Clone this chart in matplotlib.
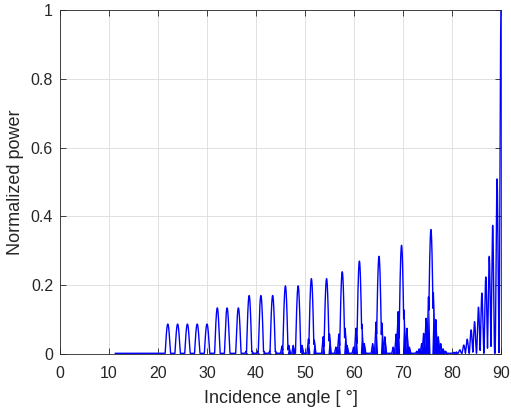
import numpy as np
import matplotlib.pyplot as plt

plt.rcParams['font.family'] = ['Liberation Sans', 'DejaVu Sans']

# main arches: angle [deg] and normalized power
main_pos = [22.0, 24.0, 26.0, 28.0, 30.0, 32.1, 34.1, 36.4, 38.6, 41.0, 43.4,
            46.0, 48.6, 51.3, 54.4, 57.6, 61.1, 65.1, 69.7, 75.7]
main_h = [0.087, 0.087, 0.087, 0.087, 0.087, 0.134, 0.134, 0.134, 0.170, 0.170, 0.170,
          0.198, 0.198, 0.219, 0.219, 0.239, 0.270, 0.284, 0.316, 0.362]

# small side spikes next to the main arches
side_pos = [38.0, 39.2, 40.4, 41.6, 42.8, 44.0,
            45.3, 46.7, 47.6, 49.4, 50.7, 51.9, 53.7, 55.0,
            56.3, 56.9, 58.2, 58.6, 59.9, 60.4, 61.6, 62.1,
            63.8, 64.5, 65.7, 66.3, 68.0, 68.6, 69.0, 70.2, 70.8, 71.3,
            72.8, 73.3, 73.8, 74.2, 74.7, 75.2, 76.2, 76.7, 77.2, 77.7, 78.2, 78.7,
            80.4, 80.9]
side_h = [0.008, 0.008, 0.008, 0.008, 0.008, 0.008,
          0.023, 0.025, 0.025, 0.025, 0.043, 0.040, 0.050, 0.058,
          0.020, 0.058, 0.075, 0.025, 0.020, 0.075, 0.087, 0.030,
          0.030, 0.093, 0.090, 0.050, 0.020, 0.058, 0.123, 0.128, 0.075, 0.020,
          0.008, 0.015, 0.030, 0.060, 0.104, 0.166, 0.178, 0.100, 0.050, 0.030, 0.015, 0.008,
          0.005, 0.006]

# lobes near grazing incidence
edge_pos = [81.6, 82.4, 83.1, 83.9, 84.6, 85.4, 86.1, 86.9, 87.6, 88.3, 89.2, 90.0]
edge_h = [0.012, 0.026, 0.043, 0.070, 0.094, 0.136, 0.177, 0.224, 0.284, 0.374, 0.509, 1.0]

x = np.linspace(11.3, 90, 40000)
base = np.full_like(x, 0.002)

main_curve = np.zeros_like(x)
for p, h in zip(main_pos, main_h):
    d = np.abs(x - p) / 0.55
    main_curve = np.maximum(main_curve, np.where(d < 1, h * np.cos(np.pi / 2 * d), 0))

side_curve = np.zeros_like(x)
for p, h in zip(side_pos, side_h):
    d = np.abs(x - p) / 0.32
    side_curve = np.maximum(side_curve, np.where(d < 1, h * (1 - d), 0))

edge_curve = np.zeros_like(x)
for p, h in zip(edge_pos, edge_h):
    d = np.abs(x - p) / 0.42
    edge_curve = np.maximum(edge_curve, np.where(d < 1, h * np.cos(np.pi / 2 * d) ** 2, 0))

y = np.maximum.reduce([base, main_curve, side_curve, edge_curve])

fig = plt.figure(figsize=(5.11, 4.11), dpi=100)
ax = fig.add_axes([60 / 511, 1 - 354 / 411, 441 / 511, 344 / 411])

ax.fill_between(x, side_curve, color='b', lw=0)
ax.plot(x, y, color='b', lw=1.0)

ax.set_xlim(0, 90)
ax.set_ylim(0, 1)
ax.set_xticks(np.arange(0, 91, 10))
ax.set_yticks([0, 0.2, 0.4, 0.6, 0.8, 1])
ax.set_yticklabels(['0', '0.2', '0.4', '0.6', '0.8', '1'])
ax.grid(True, color='#dcdcdc', lw=0.6)
ax.set_axisbelow(True)

txt = '#262626'
ax.tick_params(direction='in', length=4, width=0.6, top=True, right=True,
               labelsize=11.5, colors=txt)
ax.tick_params(axis='x', pad=9)
ax.tick_params(axis='y', pad=5)
for s in ax.spines.values():
    s.set_color(txt)
    s.set_linewidth(0.6)

ax.set_xlabel('Incidence angle [ °]', fontsize=13, color=txt, labelpad=6)
ax.set_ylabel('Normalized power', fontsize=13, color=txt, labelpad=5)

fig.savefig('out.png', dpi=100)
